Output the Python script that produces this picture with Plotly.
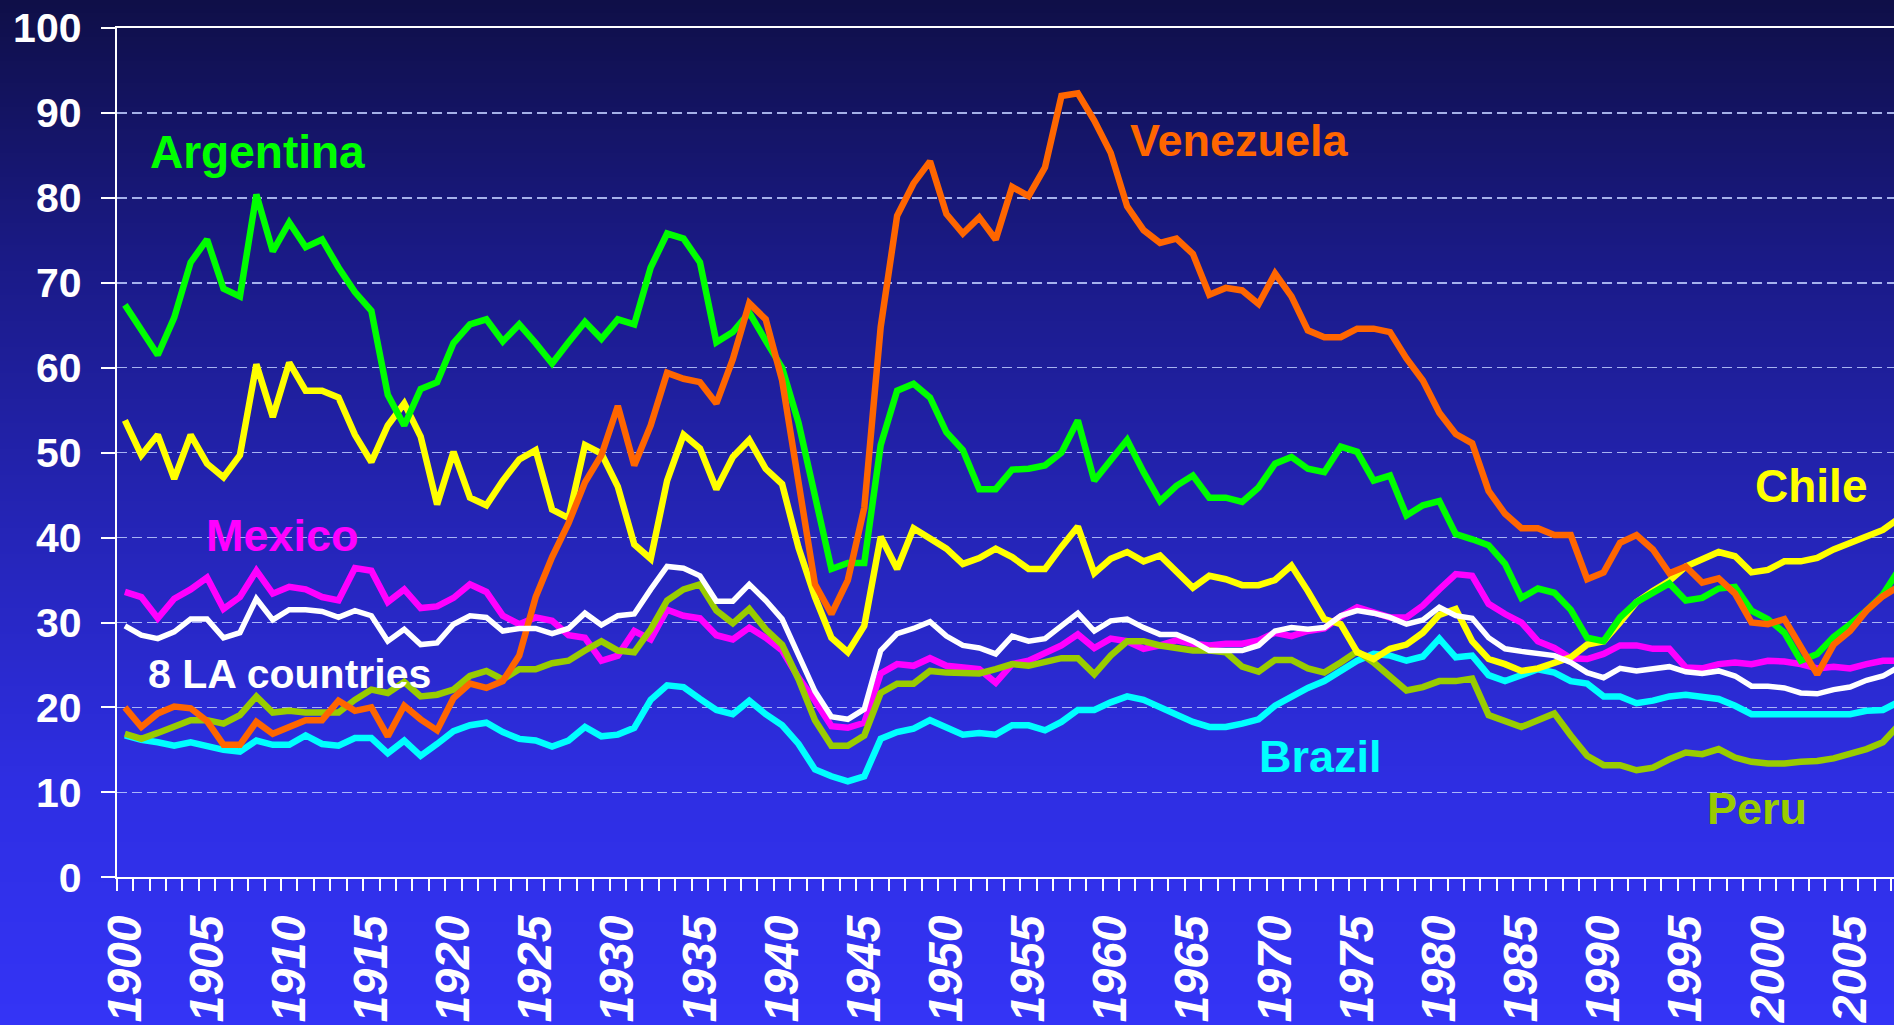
import base64
import struct
import zlib

import plotly.graph_objects as go

years = list(range(1900, 2009))

argentina = [
    67.4, 64.5, 61.5, 65.9, 72.4, 75.1, 69.3, 68.4, 80.4, 73.7,
    77.1, 74.2, 75.1, 71.8, 68.9, 66.7, 56.8, 53.2, 57.5, 58.3,
    62.9, 65.1, 65.7, 63.1, 65.1, 62.9, 60.5, 63.0, 65.4, 63.4,
    65.7, 65.1, 71.8, 75.8, 75.2, 72.4, 63.0, 64.2, 66.5, 63.2,
    60.0, 53.5, 45.0, 36.3, 37.0, 37.0, 50.9, 57.3, 58.1, 56.5,
    52.4, 50.3, 45.7, 45.7, 48.0, 48.1, 48.5, 50.0, 53.8, 46.7,
    49.1, 51.5, 47.7, 44.3, 46.1, 47.3, 44.7, 44.7, 44.2, 45.9,
    48.7, 49.5, 48.1, 47.7, 50.7, 50.1, 46.7, 47.3, 42.6, 43.8,
    44.3, 40.4, 39.8, 39.1, 36.9, 32.9, 34.0, 33.5, 31.5, 28.2,
    27.8, 30.6, 32.4, 33.4, 34.6, 32.6, 32.9, 34.0, 34.2, 31.4,
    30.4, 28.8, 25.5, 26.3, 28.3, 29.8, 31.4, 33.3, 36.3,
]

venezuela = [
    20.0, 17.7, 19.3, 20.1, 19.9, 18.4, 15.6, 15.6, 18.3, 16.9,
    17.7, 18.5, 18.5, 20.8, 19.6, 20.0, 16.6, 20.2, 18.6, 17.3,
    21.1, 22.8, 22.3, 23.1, 26.1, 33.0, 37.7, 41.7, 46.5, 49.7,
    55.5, 48.5, 53.2, 59.4, 58.7, 58.3, 55.8, 61.0, 67.6, 65.7,
    58.5, 46.0, 34.5, 31.0, 35.0, 43.5, 64.8, 77.9, 81.7, 84.3,
    78.1, 75.8, 77.7, 75.1, 81.3, 80.2, 83.6, 92.0, 92.3, 89.1,
    85.3, 79.0, 76.2, 74.7, 75.2, 73.4, 68.6, 69.4, 69.1, 67.5,
    71.1, 68.4, 64.4, 63.6, 63.6, 64.6, 64.6, 64.2, 61.1, 58.5,
    54.7, 52.2, 51.1, 45.5, 42.8, 41.1, 41.1, 40.3, 40.3, 35.1,
    35.9, 39.4, 40.3, 38.6, 35.8, 36.6, 34.7, 35.2, 33.4, 30.0,
    29.8, 30.4, 27.0, 23.9, 27.4, 29.0, 31.4, 33.1, 34.3,
]

chile = [
    53.8, 49.7, 52.1, 46.9, 52.1, 48.7, 47.1, 49.7, 60.4, 54.2,
    60.6, 57.3, 57.3, 56.5, 52.1, 48.9, 53.2, 55.8, 51.9, 43.9,
    50.1, 44.7, 43.8, 46.7, 49.2, 50.3, 43.3, 42.3, 50.9, 49.9,
    46.0, 39.2, 37.5, 46.7, 52.1, 50.5, 45.7, 49.5, 51.5, 48.1,
    46.3, 38.8, 33.0, 28.2, 26.5, 29.6, 40.1, 36.3, 41.1, 39.9,
    38.7, 36.9, 37.6, 38.7, 37.7, 36.3, 36.3, 38.9, 41.3, 35.8,
    37.5, 38.3, 37.2, 37.9, 36.1, 34.1, 35.5, 35.1, 34.4, 34.4,
    35.0, 36.7, 33.7, 30.4, 29.8, 26.5, 25.7, 26.9, 27.4, 28.8,
    30.9, 31.6, 27.8, 25.7, 25.1, 24.3, 24.6, 25.3, 25.9, 27.4,
    27.8, 30.0, 32.4, 33.7, 34.9, 36.6, 37.5, 38.3, 37.8, 35.9,
    36.2, 37.2, 37.2, 37.6, 38.6, 39.3, 40.0, 40.9, 42.3,
]

mexico = [
    33.6, 33.0, 30.5, 32.8, 33.9, 35.3, 31.6, 33.0, 36.1, 33.4,
    34.2, 33.9, 33.0, 32.6, 36.4, 36.1, 32.4, 33.9, 31.7, 31.9,
    32.9, 34.5, 33.6, 30.8, 29.8, 30.6, 30.2, 28.5, 28.2, 25.5,
    26.1, 29.0, 28.0, 31.5, 30.8, 30.5, 28.5, 28.0, 29.4, 28.2,
    26.7, 23.5, 20.8, 17.8, 17.6, 18.2, 24.0, 25.1, 24.9, 25.8,
    24.9, 24.7, 24.5, 22.9, 25.1, 25.5, 26.3, 27.3, 28.6, 27.0,
    28.1, 27.8, 26.9, 27.3, 27.9, 27.5, 27.3, 27.5, 27.5, 27.9,
    28.8, 28.4, 29.0, 29.3, 30.7, 31.8, 31.2, 30.6, 30.6, 32.0,
    33.9, 35.7, 35.5, 32.2, 31.0, 30.0, 27.8, 27.0, 25.8, 25.7,
    26.3, 27.3, 27.3, 26.9, 26.9, 24.7, 24.6, 25.1, 25.3, 25.1,
    25.5, 25.4, 25.1, 24.6, 24.8, 24.6, 25.1, 25.5, 25.5,
]

la8 = [
    29.6, 28.5, 28.1, 28.9, 30.4, 30.4, 28.2, 28.8, 32.8, 30.3,
    31.5, 31.5, 31.3, 30.6, 31.4, 30.8, 27.8, 29.2, 27.4, 27.6,
    29.8, 30.8, 30.6, 29.0, 29.3, 29.3, 28.7, 29.3, 31.1, 29.7,
    30.8, 31.0, 33.9, 36.6, 36.4, 35.5, 32.5, 32.5, 34.5, 32.6,
    30.4, 26.1, 21.9, 18.9, 18.6, 19.8, 26.7, 28.7, 29.3, 30.1,
    28.4, 27.3, 27.0, 26.3, 28.4, 27.8, 28.1, 29.6, 31.1, 29.0,
    30.2, 30.4, 29.4, 28.6, 28.6, 27.8, 26.7, 26.7, 26.7, 27.3,
    29.0, 29.4, 29.2, 29.4, 30.8, 31.4, 31.1, 30.6, 29.8, 30.3,
    31.8, 30.8, 30.5, 28.2, 26.9, 26.6, 26.4, 26.1, 25.3, 24.1,
    23.5, 24.6, 24.3, 24.6, 24.8, 24.2, 24.0, 24.3, 23.7, 22.5,
    22.5, 22.3, 21.7, 21.6, 22.1, 22.4, 23.2, 23.7, 24.8,
]

peru = [
    16.9, 16.3, 17.0, 17.7, 18.5, 18.5, 18.1, 19.1, 21.3, 19.4,
    19.6, 19.4, 19.4, 19.4, 20.9, 22.1, 21.7, 23.0, 21.3, 21.5,
    22.1, 23.7, 24.3, 23.3, 24.5, 24.5, 25.2, 25.5, 26.7, 27.8,
    26.7, 26.5, 29.2, 32.6, 33.9, 34.5, 31.4, 29.9, 31.6, 29.2,
    27.4, 23.3, 18.5, 15.5, 15.5, 16.7, 21.7, 22.8, 22.8, 24.3,
    24.1, 24.0, 24.0, 24.5, 25.1, 24.9, 25.4, 25.8, 25.8, 23.9,
    26.1, 27.8, 27.8, 27.3, 27.0, 26.7, 26.7, 26.5, 24.8, 24.2,
    25.6, 25.6, 24.6, 24.1, 25.3, 26.6, 25.3, 23.7, 22.0, 22.4,
    23.1, 23.1, 23.4, 19.1, 18.3, 17.7, 18.5, 19.3, 16.7, 14.3,
    13.2, 13.2, 12.6, 12.9, 13.9, 14.7, 14.5, 15.1, 14.1, 13.6,
    13.4, 13.4, 13.6, 13.7, 14.0, 14.5, 15.1, 15.9, 18.0,
]

brazil = [
    16.7, 16.2, 15.9, 15.5, 15.9, 15.5, 15.0, 14.8, 16.1, 15.6,
    15.6, 16.7, 15.7, 15.5, 16.4, 16.4, 14.6, 16.1, 14.3, 15.7,
    17.2, 17.9, 18.2, 17.1, 16.3, 16.1, 15.4, 16.1, 17.7, 16.6,
    16.8, 17.6, 20.9, 22.6, 22.4, 21.0, 19.7, 19.2, 20.8, 19.2,
    17.9, 15.7, 12.7, 11.9, 11.3, 11.9, 16.3, 17.1, 17.5, 18.5,
    17.6, 16.8, 17.0, 16.8, 17.9, 17.9, 17.3, 18.3, 19.7, 19.7,
    20.6, 21.3, 20.9, 20.0, 19.2, 18.3, 17.7, 17.7, 18.1, 18.6,
    20.2, 21.3, 22.3, 23.1, 24.4, 25.5, 26.3, 26.1, 25.5, 26.0,
    28.1, 25.9, 26.1, 23.8, 23.1, 23.9, 24.5, 24.1, 23.1, 22.8,
    21.3, 21.3, 20.5, 20.8, 21.3, 21.5, 21.3, 21.0, 20.2, 19.2,
    19.2, 19.2, 19.2, 19.1, 19.2, 19.2, 19.6, 19.7, 20.7,
]

label_years = list(range(1900, 2006, 5))
label_text = [str(y) for y in label_years]
y_ticks = list(range(0, 101, 10))

# series: (name, values, colour, width) bottom to top
series = [
    ("Brazil", brazil, "#00FFFF", 6.5),
    ("Mexico", mexico, "#FF00FF", 6.5),
    ("Peru", peru, "#99CC00", 6.5),
    ("Chile", chile, "#FFFF00", 6.5),
    ("Argentina", argentina, "#00FF00", 6.5),
    ("Venezuela", venezuela, "#FF6600", 6.5),
    ("8 LA countries", la8, "#FFFFFF", 5.5),
]

# label placements (year, value, text, colour, size)
labels = [
    (1901.4, 85.4, "Argentina", "#00FF00", 46),
    (1961.05, 86.7, "Venezuela", "#FF6600", 45),
    (1999.1, 46.1, "Chile", "#FFFF00", 46),
    (1904.8, 40.2, "Mexico", "#FF00FF", 45),
    (1901.3, 23.9, "8 LA countries", "#FFFFFF", 41),
    (1968.9, 14.2, "Brazil", "#00FFFF", 45),
    (1996.2, 8.05, "Peru", "#99CC00", 45),
]


def gradient_png(stops, h=512):
    raw = bytearray()
    for i in range(h):
        t = i / (h - 1)
        for k in range(len(stops) - 1):
            t0, c0 = stops[k]
            t1, c1 = stops[k + 1]
            if t0 <= t <= t1:
                f = (t - t0) / (t1 - t0) if t1 > t0 else 0
                c = [round(c0[j] + (c1[j] - c0[j]) * f) for j in range(3)]
                break
        raw += b"\x00" + bytes(c)

    def chunk(tag, data):
        body = tag + data
        return struct.pack(">I", len(data)) + body + struct.pack(">I", zlib.crc32(body) & 0xFFFFFFFF)

    png = b"\x89PNG\r\n\x1a\n"
    png += chunk(b"IHDR", struct.pack(">IIBBBBB", 1, h, 8, 2, 0, 0, 0))
    png += chunk(b"IDAT", zlib.compress(bytes(raw), 9))
    png += chunk(b"IEND", b"")
    return "data:image/png;base64," + base64.b64encode(png).decode()


bg = gradient_png([
    (0.0, (15, 15, 72)),
    (0.25, (26, 26, 134)),
    (0.5, (36, 36, 180)),
    (0.76, (46, 46, 226)),
    (1.0, (52, 52, 246)),
])

FONT = "Liberation Sans, Arial, sans-serif"
W, H = 1894, 1025

fig = go.Figure()
for name, vals, col, lw in series:
    fig.add_trace(go.Scatter(
        x=years, y=vals, mode="lines", name=name,
        line=dict(color=col, width=lw),
        hoverinfo="skip",
    ))

for x, y, txt, col, sz in labels:
    fig.add_annotation(
        x=x, y=y, xref="x", yref="y", text=txt, showarrow=False,
        xanchor="left", yanchor="middle",
        font=dict(family=FONT, size=sz, color=col, weight="bold"),
    )

fig.update_layout(
    template="none",
    width=W, height=H,
    margin=dict(l=0, r=0, t=0, b=0),
    paper_bgcolor="#23239F",
    plot_bgcolor="rgba(0,0,0,0)",
    showlegend=False,
    images=[dict(
        source=bg, xref="paper", yref="paper", x=0, y=1,
        sizex=1, sizey=1, sizing="stretch", layer="below",
        xanchor="left", yanchor="top",
    )],
    xaxis=dict(
        domain=[116.7 / W, 1.0],
        range=[1899.5, 1899.5 + (W - 116.7) / 16.43],
        tickmode="array", tickvals=label_years, ticktext=label_text,
        ticks="", tickangle=-90,
        tickfont=dict(family=FONT, size=48, color="white", weight="bold", style="italic"),
        ticklabelstandoff=17,
        showgrid=False, zeroline=False,
        showline=True, linecolor="white", linewidth=2, mirror=True,
        minor=dict(ticks="outside", ticklen=12, tickwidth=2, tickcolor="white",
                   tickmode="linear", tick0=1899.5, dtick=1, showgrid=False),
        automargin=False, fixedrange=True,
    ),
    yaxis=dict(
        domain=[(H - 877.3) / H, (H - 28) / H],
        range=[0, 100],
        tickmode="array", tickvals=y_ticks,
        ticks="outside", ticklen=14, tickwidth=2, tickcolor="white",
        tickfont=dict(family=FONT, size=41, color="white", weight="bold"),
        ticklabelstandoff=11,
        showgrid=True, gridcolor="rgba(190,205,255,0.85)", gridwidth=1.5,
        griddash="10px,5px",
        zeroline=False,
        showline=True, linecolor="white", linewidth=2,
        automargin=False, fixedrange=True,
    ),
)

fig.write_html(
    "out.html",
    config={"displayModeBar": False, "staticPlot": True},
    post_script="document.body.style.margin='0';document.body.style.background='#23239F';",
)
